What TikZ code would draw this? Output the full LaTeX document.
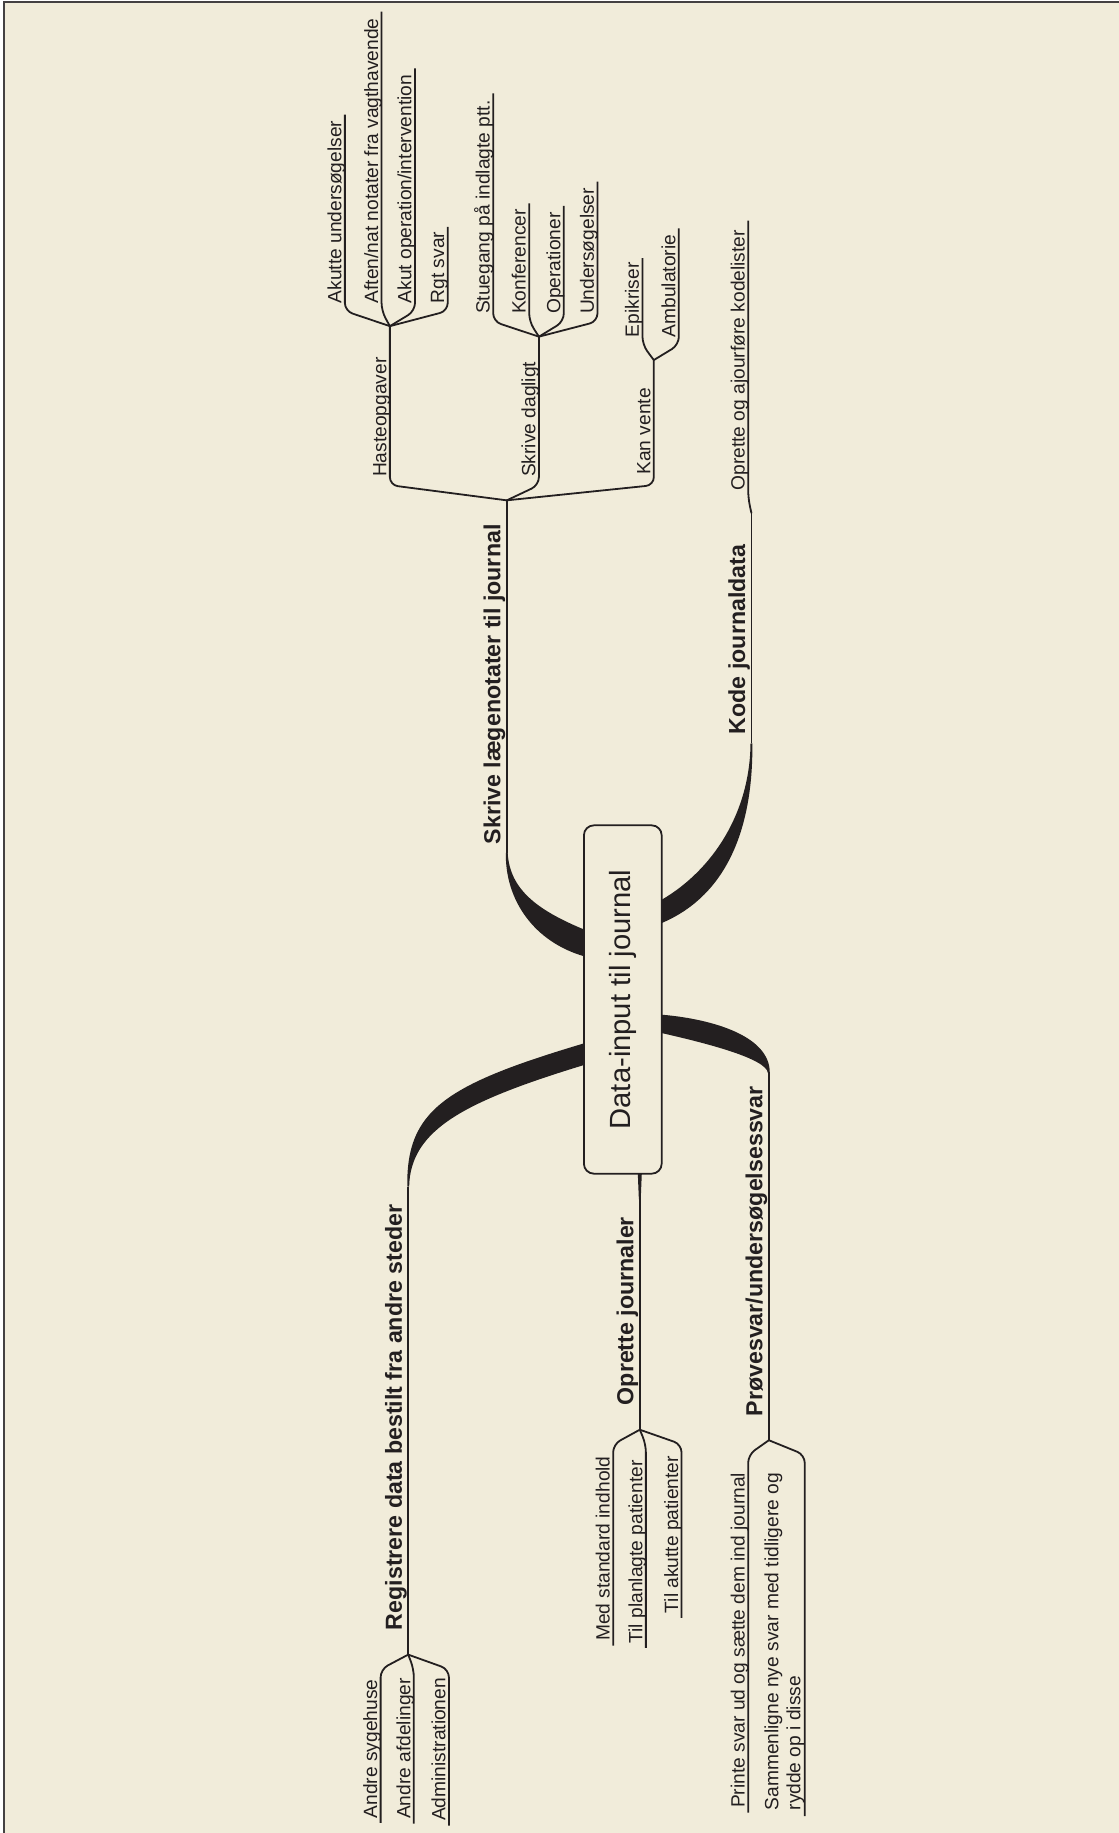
\documentclass[tikz,border=0pt]{standalone}
\usepackage{fontspec}
\setmainfont{Liberation Sans}
\usetikzlibrary{calc}
\definecolor{paper}{RGB}{241,236,218}
\definecolor{ink}{RGB}{35,31,32}

% leaf on a branch that grows upwards: fork, name, far end, text
\newcommand\upleaf[4]{%
  \coordinate (#2) at #3;
  \draw[conn] (#1) -- ($(#1 -| #2)+(0,-13)$) -- (#2);
  \node[leaf] (#2-t) at ($(#1 -| #2)+(-3,-19.5)$) {#4};}
% leaf on a branch that grows downwards: fork, name, far end, text
\newcommand\downleaf[4]{%
  \coordinate (#2) at #3;
  \draw[conn] (#1) -- ($(#1 -| #2)+(0,12.5)$) -- (#2);
  \node[leaf] (#2-t) at ($(#2)+(-3,-4)$) {#4};}

\begin{document}
\begin{tikzpicture}[x=0.5846pt, y=-0.5846pt,
  conn/.style={draw=ink, line width=0.9pt, rounded corners=4pt},
  band/.style={fill=ink, draw=none},
  leaf/.style={rotate=90, anchor=base west, inner sep=0pt, outer sep=0pt,
    text=ink, font=\fontsize{9.6}{11}\selectfont},
  topic/.style={rotate=90, anchor=base west, inner sep=0pt, outer sep=0pt,
    text=ink, font=\bfseries\fontsize{11.6}{13.5}\selectfont},
  central/.style={rotate=90, draw=ink, line width=0.9pt, fill=paper,
    rounded corners=5pt, minimum width=174.2pt, minimum height=38.9pt,
    inner sep=0pt, text=ink, font=\fontsize{14.6}{17}\selectfont}]

\useasboundingbox (0,0) rectangle (957,1568);
\fill[white] (0,0) rectangle (957,1568);
\fill[paper] (3.6,2) rectangle (957,1568);
\draw[ink!85, line width=1pt] (3.6,1568) -- (3.6,2) -- (957,2);

% junctions and forks of the main branches
\coordinate (jA) at (433.5,729.6);  \coordinate (fA) at (433.5,428);
\coordinate (jK) at (642.8,636);    \coordinate (fK) at (642.8,439);
\coordinate (jR) at (349.2,1015);   \coordinate (fR) at (349.2,1415.4);
\coordinate (jO) at (547.3,1004);   \coordinate (fO) at (547.3,1223);
\coordinate (jP) at (657.7,918);    \coordinate (fP) at (657.7,1232);

% tapered main branches leaving the central topic
\fill[band] ($(jA)+(0.8,0)$) .. controls (436,760) and (458,778) .. (500.3,795.4)
  -- (510,799.3) -- (510,823.4) -- (500.3,818.2)
  .. controls (457,806) and (432,770) .. ($(jA)+(-0.8,0)$) -- cycle;
\fill[band] ($(jK)+(-0.8,0)$) .. controls (641.5,695) and (610,744) .. (566,769.7)
  -- (556,774.7) -- (556,795) -- (566,789.6)
  .. controls (624,765) and (644.2,705) .. ($(jK)+(0.8,0)$) -- cycle;
\fill[band] ($(jR)+(-0.8,0)$) .. controls (347.5,950) and (380,928) .. (500.3,892.3)
  -- (510,889) -- (510,908) -- (500.3,910.8)
  .. controls (398,942) and (351,966) .. ($(jR)+(0.8,0)$) -- cycle;
\fill[band] ($(jP)+(0.8,0)$) .. controls (659,884) and (603,871) .. (566,868)
  -- (556,866.2) -- (556,882) -- (566,883.7)
  .. controls (598,891) and (656.2,905) .. ($(jP)+(-0.8,0)$) -- cycle;
\fill[band] (545.6,1004) -- (549,1004) -- (548.1,1026) -- (546.5,1026) -- cycle;

% main branch lines
\draw[conn] (jA) -- (fA);
\draw[conn] (jK) -- (fK);
\draw[conn] (jR) -- (fR);
\draw[conn] (jO) -- (fO);
\draw[conn] (jP) -- (fP);

% central topic
\node[central] (hub) at (532.75,855) {Data-input til journal};

% main branch labels
\node[topic] (tA) at ($(jA)+(-5.5,-7.5)$) {Skrive lægenotater til journal};
\node[topic] (tK) at ($(jK)+(-5.5,-8)$) {Kode journaldata};
\node[topic] (tR) at ($(fR)+(-5.5,-21)$) {Registrere data bestilt fra andre steder};
\node[topic] (tO) at ($(fO)+(-5.5,-21)$) {Oprette journaler};
\node[topic] (tP) at ($(fP)+(-5.5,-20.5)$) {Prøvesvar/undersøgelsessvar};

% second level under "Skrive lægenotater til journal"
\coordinate (fHaste) at (333.5,279);
\coordinate (fDaglig) at (461,288);
\coordinate (fVente) at (559.3,308);
\draw[conn] (fA) -- ($(fA -| fHaste)+(0,-13)$) -- (fHaste);
\draw[conn] (fA) -- ($(fA -| fDaglig)+(0,-13)$) -- (fDaglig);
\draw[conn] (fA) -- ($(fA -| fVente)+(0,-13)$) -- (fVente);
\node[leaf] (tHaste) at ($(fA -| fHaste)+(-3,-20)$) {Hasteopgaver};
\node[leaf] (tDaglig) at ($(fA -| fDaglig)+(-3,-20)$) {Skrive dagligt};
\node[leaf] (tVente) at ($(fA -| fVente)+(-3,-22)$) {Kan vente};

% leaves growing upwards
\upleaf{fHaste}{eAkutte}{(295,98)}{Akutte undersøgelser}
\upleaf{fHaste}{eAften}{(326.4,10)}{Aften/nat notater fra vagthavende}
\upleaf{fHaste}{eAkutOp}{(355,58.5)}{Akut operation/intervention}
\upleaf{fHaste}{eRgt}{(383,194)}{Rgt svar}
\upleaf{fDaglig}{eStue}{(421.9,79.8)}{Stuegang på indlagte ptt.}
\upleaf{fDaglig}{eKonf}{(452.7,173.9)}{Konferencer}
\upleaf{fDaglig}{eOper}{(482.3,176.2)}{Operationer}
\upleaf{fDaglig}{eUnder}{(511.1,155.4)}{Undersøgelser}
\upleaf{fVente}{eEpi}{(549.6,220.9)}{Epikriser}
\upleaf{fVente}{eAmb}{(580.7,195.3)}{Ambulatorie}
\upleaf{fK}{eKode}{(640,188.7)}{Oprette og ajourføre kodelister}

% leaves growing downwards
\downleaf{fR}{eSyge}{(325.6,1559.3)}{Andre sygehuse}
\downleaf{fR}{eAfd}{(354,1560)}{Andre afdelinger}
\downleaf{fR}{eAdm}{(384,1561.7)}{Administrationen}
\downleaf{fO}{eMed}{(524.5,1407.7)}{Med standard indhold}
\downleaf{fO}{ePlan}{(552.5,1409.7)}{Til planlagte patienter}
\downleaf{fO}{eAkutPt}{(583,1384)}{Til akutte patienter}
\downleaf{fP}{ePrint}{(640,1550.5)}{Printe svar ud og sætte dem ind journal}

\coordinate (eSamm) at (688.4,1553.6);
\draw[conn] (fP) -- ($(fP -| eSamm)+(0,12.5)$) -- (eSamm);
\node[leaf, anchor=south west, align=left] (eSamm-t) at ($(eSamm)+(-0.3,-5)$)
  {Sammenligne nye svar med tidligere og\\rydde op i disse};

\end{tikzpicture}
\end{document}
